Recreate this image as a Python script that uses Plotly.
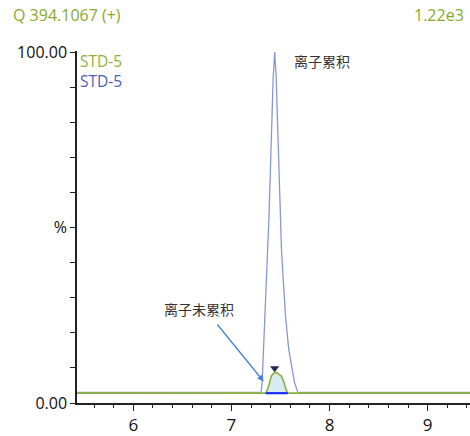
import plotly.graph_objects as go

# ---- data ----
blue_time = [5.426, 7.290, 7.303, 7.313, 7.320, 7.330, 7.341, 7.351, 7.370, 7.382,
             7.395, 7.405, 7.415, 7.425, 7.441, 7.456, 7.466, 7.476, 7.486, 7.496,
             7.505, 7.510, 7.530, 7.551, 7.584, 7.612, 7.642, 7.676, 7.690, 9.431]
blue_pct = [3.0, 3.0, 3.1, 5.9, 10.6, 15.3, 24.7, 34.1, 43.5, 52.8,
            64.6, 74.0, 83.3, 92.7, 100.0, 92.7, 83.3, 74.0, 64.6, 55.2,
            51.4, 43.5, 34.1, 24.7, 15.3, 10.6, 5.9, 3.1, 3.0, 3.0]

green_time = [5.426, 7.350, 7.370, 7.387, 7.408, 7.430, 7.455, 7.480, 7.510, 7.530,
              7.543, 7.560, 7.574, 9.431]
green_pct = [2.8, 2.8, 4.0, 5.9, 7.8, 8.5, 8.7, 8.3, 7.6, 6.3, 5.0, 3.5, 2.8, 2.8]

peak_start, peak_end, baseline = 7.350, 7.574, 2.8
apex_time, apex_marker_pct = 7.440, 9.9

y_tick_vals = [0, 10, 20, 30, 40, 50, 60, 70, 80, 90, 100]
y_tick_text = ["0.00", "", "", "", "", "%", "", "", "", "", "100.00"]
x_tick_vals = [6, 7, 8, 9]
x_tick_text = ["6", "7", "8", "9"]

title_left = "Q 394.1067 (+)"
title_right = "1.22e3"
legend_names = ["STD-5", "STD-5"]
label_acc = "离子累积"
label_not_acc = "离子未累积"

GREEN = "#8cb13b"
BLUE_LINE = "#8a98d2"
BLUE_TEXT = "#4a5fb8"
FONT = "Open Sans, Noto Sans CJK SC, sans-serif"
CJK = "Noto Sans CJK SC, sans-serif"

W, H = 470, 436
L, R, T, B = 77, 0, 51.4, 28.3
XR = [5.426, 9.431]
YR = [0, 100.3]

def px_x(px):
    return (px - L) / (W - L - R)

def px_y(py):
    return (H - B - py) / (H - T - B)

fig = go.Figure()

# blue trace (accumulated ions)
fig.add_trace(go.Scatter(x=blue_time, y=blue_pct, mode="lines",
                         line=dict(color=BLUE_LINE, width=1.3), hoverinfo="skip"))

# filled integrated peak area
pk_t = [t for t in green_time if peak_start <= t <= peak_end]
pk_y = [v for t, v in zip(green_time, green_pct) if peak_start <= t <= peak_end]
fig.add_trace(go.Scatter(x=pk_t, y=[baseline] * len(pk_t), mode="lines",
                         line=dict(width=0), hoverinfo="skip"))
fig.add_trace(go.Scatter(x=pk_t, y=pk_y, mode="lines", fill="tonexty",
                         fillcolor="#d8ebf4", line=dict(width=0), hoverinfo="skip"))

# green trace (non-accumulated)
fig.add_trace(go.Scatter(x=green_time, y=green_pct, mode="lines",
                         line=dict(color=GREEN, width=1.6), hoverinfo="skip"))

# integration baseline
fig.add_trace(go.Scatter(x=[peak_start, peak_end], y=[baseline, baseline], mode="lines",
                         line=dict(color="#1a2cff", width=2.2), hoverinfo="skip"))

# apex marker
fig.add_trace(go.Scatter(x=[apex_time], y=[apex_marker_pct], mode="markers",
                         marker=dict(symbol="triangle-down", size=8, color="#1d2b4d"),
                         hoverinfo="skip", cliponaxis=False))

annotations = [
    dict(text=title_left, xref="paper", yref="paper", x=px_x(11), y=px_y(15),
         xanchor="left", yanchor="middle", showarrow=False,
         font=dict(family=FONT, size=16, color="#8aa92c")),
    dict(text=title_right, xref="paper", yref="paper", x=px_x(466), y=px_y(15),
         xanchor="right", yanchor="middle", showarrow=False,
         font=dict(family=FONT, size=16, color="#8aa92c")),
    dict(text=legend_names[0], xref="paper", yref="paper", x=px_x(79), y=px_y(61.3),
         xanchor="left", yanchor="middle", showarrow=False, borderpad=0,
         font=dict(family=FONT, size=15.5, color=GREEN)),
    dict(text=legend_names[1], xref="paper", yref="paper", x=px_x(79), y=px_y(81.7),
         xanchor="left", yanchor="middle", showarrow=False, borderpad=0,
         font=dict(family=FONT, size=15.5, color=BLUE_TEXT)),
    dict(text=label_acc, xref="paper", yref="paper", x=px_x(292), y=px_y(62),
         xanchor="left", yanchor="middle", showarrow=False,
         font=dict(family=CJK, size=14, color="#333333")),
    dict(text=label_not_acc, xref="paper", yref="paper", x=px_x(162), y=px_y(313),
         xanchor="left", yanchor="middle", showarrow=False,
         font=dict(family=CJK, size=14, color="#333333")),
    dict(text="", xref="x", yref="y", x=7.329, y=6.1,
         ax=6.844, ay=22.8, axref="x", ayref="y",
         showarrow=True, arrowhead=2, arrowsize=1, arrowwidth=1.3,
         arrowcolor="#4b80d6", standoff=0),
]

fig.update_layout(
    width=W, height=H,
    margin=dict(l=L, r=R, t=T, b=B, pad=0),
    paper_bgcolor="white", plot_bgcolor="white",
    showlegend=False,
    annotations=annotations,
    font=dict(family=FONT, size=16, color="#111111"),
    xaxis=dict(range=XR, showgrid=False, zeroline=False, showline=True,
               linecolor="#222222", linewidth=1.5, ticks="outside", ticklen=6,
               tickwidth=1.3, tickcolor="#222222", tickvals=x_tick_vals,
               ticktext=x_tick_text, tickfont=dict(size=17, color="#111111"),
               minor=dict(dtick=0.2, tick0=0, ticks="outside", ticklen=3,
                          tickwidth=1.2, tickcolor="#222222", showgrid=False)),
    yaxis=dict(range=YR, showgrid=False, zeroline=False, showline=True,
               linecolor="#222222", linewidth=1.5, ticks="outside", ticklen=5,
               tickwidth=1.2, tickcolor="#222222", tickvals=y_tick_vals,
               ticktext=y_tick_text, tickfont=dict(size=16, color="#111111")),
)

fig.write_html("out.html")
